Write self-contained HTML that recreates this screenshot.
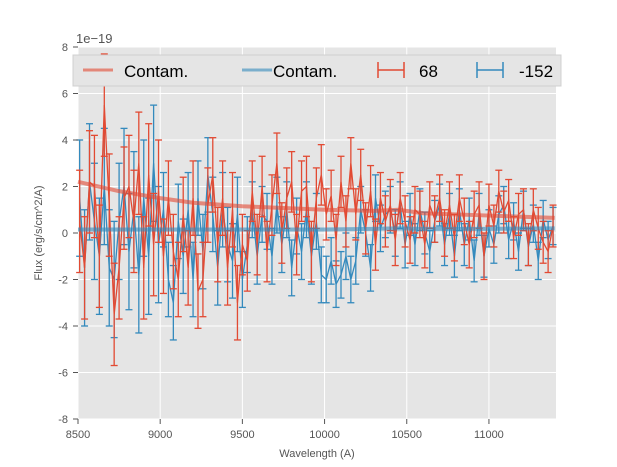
<!DOCTYPE html>
<html><head><meta charset="utf-8"><style>
body{margin:0;background:#fff;font-family:"Liberation Sans",sans-serif}
svg{display:block}
</style></head><body>
<svg id="chart" width="617" height="467">
<rect x="78" y="47" width="478" height="372" fill="#e5e5e5"/>
<g id="grid"></g><g id="series"></g><g id="axes"></g>
<text x="76" y="43" font-size="13" fill="#555">1e−19</text>
<text x="317" y="457" font-size="11" fill="#555" text-anchor="middle">Wavelength (A)</text>
<text transform="translate(42,233) rotate(-90)" font-size="11" fill="#555" text-anchor="middle">Flux (erg/s/cm^2/A)</text>
<g>
<rect x="73" y="55" width="488" height="31" fill="#e5e5e5" stroke="#d0d0d0"/>
<line x1="83" y1="70" x2="113" y2="70" stroke="#E24A33" stroke-width="3" opacity="0.6"/>
<text x="124" y="77" font-size="17" fill="#000">Contam.</text>
<line x1="242" y1="70" x2="272" y2="70" stroke="#348ABD" stroke-width="3" opacity="0.6"/>
<text x="273" y="77" font-size="17" fill="#000">Contam.</text>
<g stroke="#E24A33" stroke-width="1.5"><line x1="378" y1="70" x2="404" y2="70"/><line x1="378" y1="62" x2="378" y2="78"/><line x1="404" y1="62" x2="404" y2="78"/></g>
<text x="419" y="77" font-size="17" fill="#000">68</text>
<g stroke="#348ABD" stroke-width="1.5"><line x1="477" y1="70" x2="503" y2="70"/><line x1="477" y1="62" x2="477" y2="78"/><line x1="503" y1="62" x2="503" y2="78"/></g>
<text x="519" y="77" font-size="17" fill="#000">-152</text>
</g>
</svg>
<script>
const xTicks=[8500,9000,9500,10000,10500,11000];
const yTicks=[-8,-6,-4,-2,0,2,4,6,8];
const wlStart=8510, wlStep=30;
const red=[0.5,-1.5,2.2,2.0,-1.0,5.5,1.2,-3.5,-1.5,1.5,2.0,0.5,3.0,-1.5,2.5,-0.5,1.8,
-1,1.5,-0.8,-2.0,0.8,-1.5,1.5,-2.5,-2.0,1.2,2.5,-0.5,1.5,-1.5,1.0,-3.0,-0.5,
-1.2,1.8,-0.5,2.0,-0.8,1.2,3.0,0.0,1.5,2.2,-0.5,1.8,2.0,-0.8,1.5,2.5,
0.8,1.6,-0.3,2.2,0.5,3.0,0.8,2.5,0.2,1.8,-0.5,1.5,0.5,1.2,-0.3,1.5,0.5,
-0.3,1.0,0.8,-0.5,1.2,0.6,1.5,0.0,1.2,-0.2,1.5,0.5,-0.5,0.8,1.2,-1.0,
1.2,0.3,1.8,0.9,1.4,-0.2,0.8,1.0,-0.5,1.0,0.2,-0.4,-0.8,0.3];
const blue=[1.5,-1.5,2.2,0.5,-1.0,2.0,-1.5,-2.0,0.5,2.0,-0.8,1.0,-1.8,1.5,-1.0,3.0,-0.5,
1.0,-2.0,-3.0,0.5,-1.0,1.0,-2.0,1.5,-0.8,2.5,0.8,-1.5,1.0,-0.5,-1.2,0.8,-2.0,
-0.5,1.0,-1.0,0.8,0.5,-1.0,1.2,-0.5,1.0,-1.5,0.3,-0.8,1.0,-1.0,0.5,-1.8,
-2.0,-1.2,-2.2,-1.8,-1.0,-2.0,-1.2,1.0,0.0,-1.5,1.5,0.2,0.8,1.0,0.0,1.2,-0.5,
0.8,-0.5,1.0,0.0,-0.8,0.5,1.2,-0.5,0.8,-1.0,1.0,-0.5,0.6,-1.2,0.8,-1.0,
0.2,-0.5,0.8,1.2,-0.3,0.5,-0.8,1.0,-0.6,0.4,-1.2,0.6,-0.3,0.3];
const errRedSeg=[2.2,1.6,1.3,1.1,1.0,0.9];
const errBlueSeg=[2.5,1.6,1.2,1.0,0.9,0.8];
const contamWl=[8500,8750,9000,9200,9500,10000,10300,10450,10600,11000,11400];
const contamRed=[2.2,1.8,1.5,1.3,1.15,1.0,0.95,1.0,0.85,0.75,0.65];
const contamBlue=[0.15,0.15,0.15,0.15,0.15,0.15,0.18,0.2,0.18,0.18,0.2];
const X=v=>78+(v-8500)*(478/2908), Y=v=>233-v*23.25;
const NS='http://www.w3.org/2000/svg';
function mk(tag,attrs,parent){const e=document.createElementNS(NS,tag);for(const k in attrs)e.setAttribute(k,attrs[k]);parent.appendChild(e);return e;}
const grid=document.getElementById('grid'),axes=document.getElementById('axes'),ser=document.getElementById('series');
xTicks.forEach(t=>{
 const g=mk('line',{x1:X(t),x2:X(t),y1:47,y2:419,stroke:'#fff','stroke-width':1},grid);
 
 
 const tk=mk('line',{x1:X(t),x2:X(t),y1:419,y2:424,stroke:'#555'},axes);
 
 
 const l=mk('text',{x:X(t),y:438,'font-size':11,fill:'#555','text-anchor':'middle'},axes);l.textContent=t;
 
 
});
yTicks.forEach(t=>{
 const g=mk('line',{x1:78,x2:556,y1:Y(t),y2:Y(t),stroke:'#fff','stroke-width':1},grid);
 
 
 const tk=mk('line',{x1:73,x2:78,y1:Y(t),y2:Y(t),stroke:'#555'},axes);
 
 
 const l=mk('text',{x:68,y:Y(t)+4,'font-size':11,fill:'#555','text-anchor':'end'},axes);l.textContent=t;
 
 
});
function drawSeries(vals,errs,color,name){
 const g=mk('g',{stroke:color,'stroke-width':1.3,fill:'none'},ser);
 
 
 let pts=[];
 vals.forEach((v,i)=>{
  const w=wlStart+i*wlStep,x=X(w),e=errs[Math.min(5,Math.floor((w-8500)/500))];
  mk('line',{x1:x,x2:x,y1:Y(v-e),y2:Y(v+e)},g);
  mk('line',{x1:x-3.5,x2:x+3.5,y1:Y(v-e),y2:Y(v-e)},g);
  mk('line',{x1:x-3.5,x2:x+3.5,y1:Y(v+e),y2:Y(v+e)},g);
  pts.push(x+','+Y(v));
 });
 mk('polyline',{points:pts.join(' ')},g);
}
function drawContam(vals,color,name){
 const p=mk('polyline',{points:contamWl.map((w,i)=>X(w)+','+Y(vals[i])).join(' '),stroke:color,'stroke-width':4,fill:'none',opacity:0.6},ser);
 
 
}
drawSeries(blue,errBlueSeg,'#348ABD','series-minus152');
drawSeries(red,errRedSeg,'#E24A33','series-68');
drawContam(contamRed,'#E24A33','contam-line-68');
drawContam(contamBlue,'#348ABD','contam-line-minus152');
</script>
</body></html>
